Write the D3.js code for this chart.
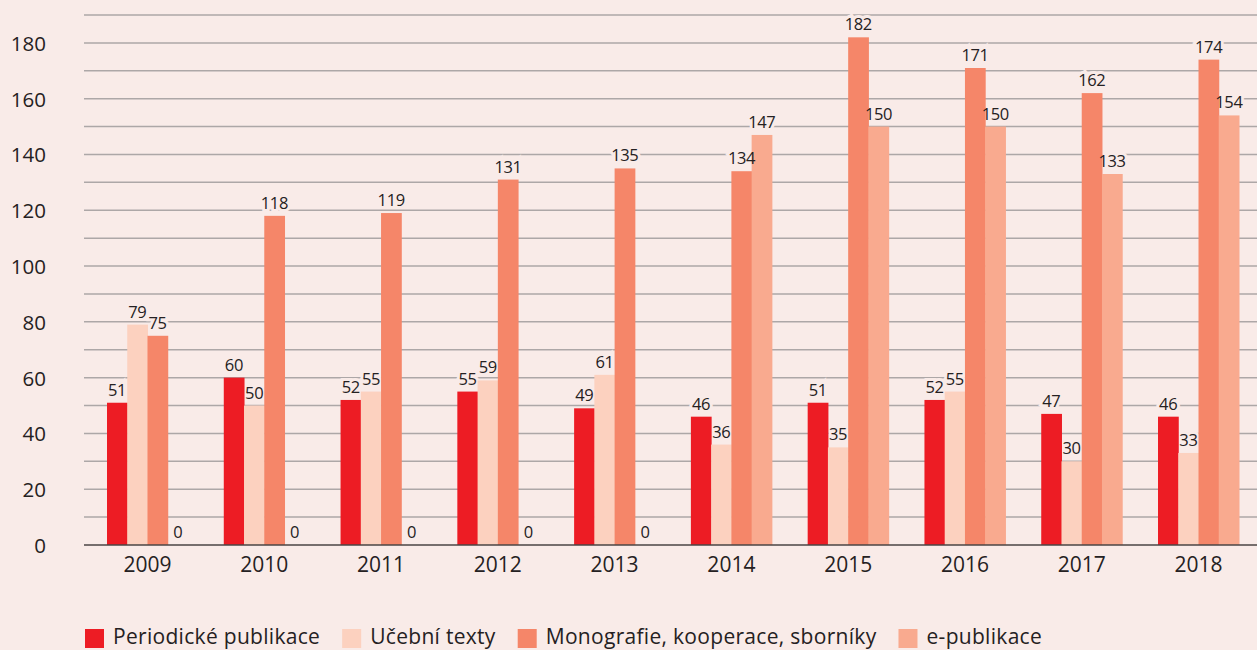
<!DOCTYPE html>
<html>
<head>
<meta charset="utf-8">
<script src="https://cdn.jsdelivr.net/npm/d3@7"></script>
<style>
  html, body { margin: 0; padding: 0; background: #F9EBE8; }
  svg { display: block; }
  text { font-family: "Open Sans", Lato, sans-serif; fill: #252122; }
</style>
</head>
<body>
<svg id="chart" width="1257" height="650"></svg>
<script>
// Publication counts per year, by type
const years = ["2009", "2010", "2011", "2012", "2013", "2014", "2015", "2016", "2017", "2018"];
const seriesNames = ["Periodické publikace", "Učební texty", "Monografie, kooperace, sborníky", "e-publikace"];
const periodicke = [51, 60, 52, 55, 49, 46, 51, 52, 47, 46];
const ucebni = [79, 50, 55, 59, 61, 36, 35, 55, 30, 33];
const monografie = [75, 118, 119, 131, 135, 134, 182, 171, 162, 174];
const epublikace = [0, 0, 0, 0, 0, 147, 150, 150, 133, 154];
const yTicks = [0, 20, 40, 60, 80, 100, 120, 140, 160, 180];
const colors = ["#ED1C24", "#FCD1BF", "#F58669", "#F9AA8F"];

const series = [periodicke, ucebni, monografie, epublikace];
const W = 1257, bg = "#F9EBE8";
const svg = d3.select("#chart");

const y = d3.scaleLinear().domain([0, 190]).range([545, 15]);
const x0 = d3.scaleBand().domain(years).range([107, 1239]).paddingInner(0.3065).paddingOuter(0);
const x1 = d3.scaleBand().domain(d3.range(series.length)).range([0, x0.bandwidth()]);
const cells = (d, i) => series.map((s, k) => ({k, v: s[i]}));

// gridlines every 10 units
svg.append("g").selectAll("line").data(d3.range(10, 191, 10)).join("line")
  .attr("x1", 84).attr("x2", W)
  .attr("y1", d => y(d)).attr("y2", d => y(d))
  .attr("stroke", "#ADA7A7").attr("stroke-width", 1.5);

// y axis labels
const yAxis = svg.append("g").attr("transform", "translate(46,0)")
  .call(d3.axisLeft(y).tickValues(yTicks).tickSize(0).tickPadding(0));
yAxis.select(".domain").remove();
yAxis.selectAll("text").attr("font-size", 20.5).attr("dy", "0.36em");

const groupLayer = (cls) => svg.append("g").attr("class", cls).selectAll("g").data(years).join("g")
  .attr("transform", d => `translate(${x0(d)},0)`);

// label backgrounds: cut the gridlines, stay under the bars
const valueText = (sel) => sel
  .attr("x", d => x1(d.k) + x1.bandwidth() / 2)
  .attr("y", d => y(d.v) - 7)
  .attr("text-anchor", "middle")
  .attr("font-size", 16.5)
  .attr("letter-spacing", -0.4)
  .text(d => d.v);

groupLayer("halo").selectAll("text").data(cells).join("text")
  .call(valueText)
  .style("fill", bg)
  .attr("stroke", bg).attr("stroke-width", 6);

// bars
groupLayer("bars").selectAll("rect").data(cells).join("rect")
  .attr("x", d => x1(d.k)).attr("width", x1.bandwidth() + 0.5)
  .attr("y", d => y(d.v)).attr("height", d => y(0) - y(d.v))
  .attr("fill", d => colors[d.k]);

// x axis baseline
svg.append("line").attr("x1", 84).attr("x2", W).attr("y1", y(0)).attr("y2", y(0))
  .attr("stroke", "#4a4444").attr("stroke-width", 1.5);

// year labels
const xAxis = svg.append("g").attr("transform", `translate(0,${y(0)})`)
  .call(d3.axisBottom(x0).tickSize(0).tickPadding(12));
xAxis.select(".domain").remove();
xAxis.selectAll("text").attr("font-size", 21);

// value labels
groupLayer("values").selectAll("text").data(cells).join("text").call(valueText);

// legend
const legend = svg.append("g");
let lx = 85;
seriesNames.forEach((name, k) => {
  legend.append("rect").attr("x", lx).attr("y", 629).attr("width", 19).attr("height", 19).attr("fill", colors[k]);
  const t = legend.append("text").attr("x", lx + 28).attr("y", 644).attr("font-size", 21)
    .attr("letter-spacing", 0.3).text(name);
  lx += 28 + t.node().getComputedTextLength() + 22;
});
</script>
</body>
</html>
